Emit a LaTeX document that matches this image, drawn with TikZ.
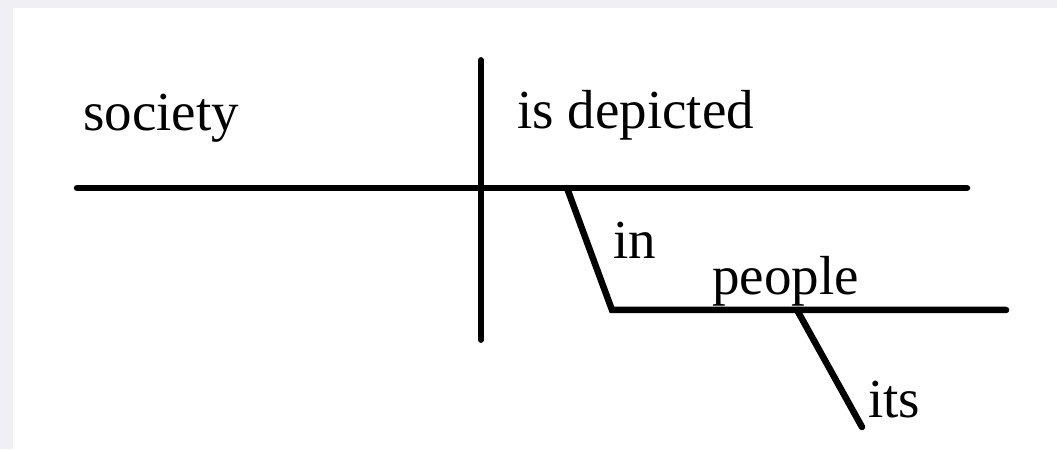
\documentclass[tikz,border=0pt]{standalone}
\usepackage{fontspec}
\setmainfont{Liberation Serif}
\usepackage{xcolor}
\usepackage{tikz}
\definecolor{randgrau}{HTML}{F0F0F4}

\begin{document}
\begin{tikzpicture}[
    font=\fontsize{31.3pt}{36pt}\selectfont,
    linie/.style={line width=3.7pt, line cap=round},
    wort/.style={anchor=base west, inner sep=0pt}
]

% --- HINTERGRUND ---
\fill[randgrau] (0,0) rectangle (21.14,8.98);
\fill[white] (0.26,0) rectangle (21.14,8.82);
\useasboundingbox (0,0) rectangle (21.14,8.98);

% --- PUNKTE ---
\coordinate (hl) at (1.54,5.22);   % Grundlinie links
\coordinate (hr) at (19.34,5.22);  % Grundlinie rechts
\coordinate (to) at (9.62,7.78);   % Trennstrich oben
\coordinate (tu) at (9.62,2.18);   % Trennstrich unten
\coordinate (po) at (11.34,5.22);  % Praeposition oben
\coordinate (pk) at (12.24,2.78);  % Knick
\coordinate (or) at (20.12,2.78);  % Objektlinie rechts
\coordinate (ao) at (15.94,2.78);  % Attribut oben
\coordinate (au) at (17.24,0.44);  % Attribut unten

% --- WOERTER ---
\node[wort] (subj) at (1.66,6.36) {society};
\node[wort] (praed) at (10.34,6.40) {is depicted};
\node[wort] (praep) at (12.26,3.80) {in};
\node[wort] (obj) at (14.24,3.08) {people};
\node[wort] (attr) at (17.36,0.64) {its};

% --- LINIEN ---
\draw[linie] (hl) -- (hr);
\draw[line width=3.3pt, line cap=round] (to) -- (tu);
\draw[linie] (po) -- (pk) -- (or);
\draw[linie] (ao) -- (au);

\end{tikzpicture}
\end{document}
